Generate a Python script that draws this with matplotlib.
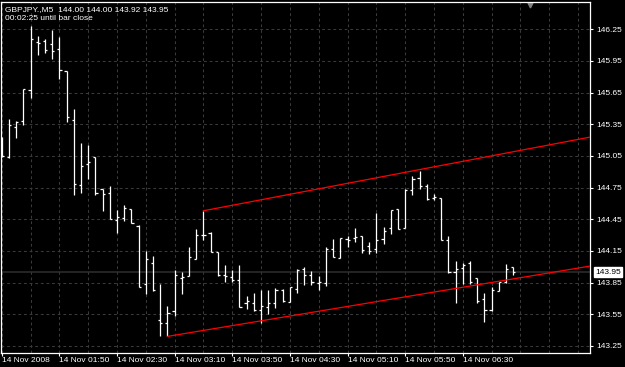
import matplotlib
matplotlib.use("Agg")
import matplotlib.pyplot as plt
import matplotlib.transforms as mtransforms
import numpy as np

# GBPJPY M5 bars, 14 Nov 2008 01:10 .. 07:05
opens = [145.20, 145.04, 145.32, 145.38, 145.67, 146.13, 146.14, 146.11, 146.06, 145.85,
         145.39, 144.77, 144.97, 145.04, 144.74, 144.70, 144.44, 144.46, 144.55, 144.39,
         143.84, 144.04, 143.50, 143.47, 143.58, 143.89, 143.91, 144.07, 144.30, 144.32,
         144.14, 143.92, 143.90, 143.87, 143.66, 143.66, 143.59, 143.62, 143.66, 143.78,
         143.67, 143.79, 143.98, 143.92, 143.85, 143.85, 144.17, 144.08, 144.26, 144.27,
         144.29, 144.20, 144.17, 144.26, 144.37, 144.55, 144.37, 144.73, 144.84, 144.76,
         144.65, 144.65, 144.25, 143.95, 143.99, 144.04, 143.89, 143.69, 143.59, 143.77,
         143.86, 144.00]
highs = [145.23, 145.40, 145.38, 145.68, 146.28, 146.19, 146.16, 146.24, 146.18, 145.85,
         145.49, 145.17, 145.15, 145.04, 144.74, 144.76, 144.54, 144.58, 144.55, 144.40,
         144.15, 144.10, 143.84, 143.63, 143.97, 143.95, 144.19, 144.36, 144.53, 144.33,
         144.14, 144.02, 143.97, 144.02, 143.72, 143.75, 143.78, 143.78, 143.80, 143.79,
         143.81, 143.98, 144.00, 143.96, 143.91, 144.19, 144.26, 144.27, 144.29, 144.37,
         144.29, 144.23, 144.51, 144.38, 144.54, 144.55, 144.74, 144.86, 144.91, 144.78,
         144.69, 144.65, 144.29, 144.05, 144.04, 144.05, 143.89, 143.75, 143.81, 143.86,
         144.03, 144.00]
lows = [145.04, 145.03, 145.22, 145.34, 145.60, 146.01, 146.02, 145.97, 145.78, 145.37,
        144.68, 144.70, 144.83, 144.68, 144.53, 144.45, 144.32, 144.43, 144.41, 143.81,
        143.74, 143.77, 143.34, 143.34, 143.53, 143.74, 143.91, 144.07, 144.25, 144.14,
        143.91, 143.86, 143.86, 143.62, 143.60, 143.58, 143.47, 143.55, 143.61, 143.67,
        143.67, 143.75, 143.83, 143.83, 143.78, 143.82, 144.09, 144.08, 144.19, 144.23,
        144.13, 144.12, 144.13, 144.22, 144.31, 144.36, 144.37, 144.68, 144.74, 144.63,
        144.63, 144.25, 143.94, 143.66, 143.84, 143.84, 143.66, 143.48, 143.58, 143.77,
        143.85, 143.92]
closes = [145.05, 145.34, 145.37, 145.68, 146.16, 146.12, 146.05, 146.04, 145.86, 145.42,
          144.78, 144.95, 144.99, 144.70, 144.69, 144.45, 144.47, 144.56, 144.41, 143.81,
          144.07, 143.78, 143.47, 143.56, 143.92, 143.90, 144.09, 144.30, 144.30, 144.14,
          143.92, 143.91, 143.87, 143.62, 143.68, 143.59, 143.63, 143.66, 143.78, 143.68,
          143.81, 143.97, 143.92, 143.86, 143.86, 144.17, 144.09, 144.27, 144.25, 144.28,
          144.16, 144.15, 144.25, 144.34, 144.54, 144.36, 144.73, 144.83, 144.76, 144.64,
          144.66, 144.25, 143.95, 143.98, 144.02, 143.86, 143.68, 143.59, 143.78, 143.86,
          143.98, 143.95]

time_labels = ["14 Nov 2008", "14 Nov 01:50", "14 Nov 02:30", "14 Nov 03:10", "14 Nov 03:50",
               "14 Nov 04:30", "14 Nov 05:10", "14 Nov 05:50", "14 Nov 06:30"]
price_ticks = [143.25, 143.55, 143.85, 144.15, 144.45, 144.75, 145.05, 145.35, 145.65, 145.95, 146.25]

symbol = "GBPJPY.,M5"
bid = 143.95
timer = "00:02:25 until bar close"

# trend lines: (bar index, price) anchors
upper_line = [(28, 144.53), (58, 144.92)]
lower_line = [(23, 143.34), (60, 143.76)]

plt.rcParams['font.family'] = ['Liberation Sans', 'DejaVu Sans']
plt.rcParams['font.size'] = 6

fig = plt.figure(figsize=(6.25, 3.67), dpi=100, facecolor='black')
ax = fig.add_axes([0.0024, 0.0373, 0.9416, 0.958])
ax.set_facecolor('black')

x_left, x_right = -0.03, 81.66
ax.set_xlim(x_left, x_right)
ax.set_ylim(143.18, 146.51)

# grid
ax.set_axisbelow(True)
ax.set_xticks(np.arange(0, 72, 8))
ax.set_xticks(np.arange(0, 84, 4), minor=True)
ax.set_yticks(price_ticks)
ax.grid(which='both', axis='x', color='#3a3a3a', lw=0.75, linestyle=(0, (2.7, 2.7)))
ax.grid(which='major', axis='y', color='#3a3a3a', lw=0.75, linestyle=(0, (2.7, 2.7)))

# bid line
ax.axhline(bid, color='#2e2e2e', lw=1.1, zorder=1)

# OHLC bars
x = np.arange(len(opens))
tick = 0.3
ax.vlines(x, lows, highs, color='white', lw=0.9, zorder=3)
ax.hlines(opens, x - tick, x, color='white', lw=0.9, zorder=3)
ax.hlines(closes, x, x + tick, color='white', lw=0.9, zorder=3)


def ray(pts, x_end):
    (x1, y1), (x2, y2) = pts
    m = (y2 - y1) / (x2 - x1)
    return [x1, x_end], [y1, y1 + m * (x_end - x1)]


for pts in (upper_line, lower_line):
    xs, ys = ray(pts, x_right)
    ax.plot(xs, ys, color='#ff0000', lw=0.9, zorder=4)

# axes styling
for side in ['left', 'right', 'top', 'bottom']:
    ax.spines[side].set_color('white')
    ax.spines[side].set_linewidth(0.9)
ax.yaxis.tick_right()
ax.tick_params(axis='y', which='major', colors='white', length=2.2, width=0.8, pad=2.5, labelsize=6)
ax.tick_params(axis='x', which='major', colors='white', length=2.2, width=0.8, pad=0.8, labelsize=6)
ax.tick_params(axis='x', which='minor', length=0)
ax.set_yticklabels([f"{p:.2f}" for p in price_ticks])
ax.set_xticklabels(time_labels, ha='left')

# bid price label on the scale
trans = mtransforms.blended_transform_factory(ax.transAxes, ax.transData)
ax.text(1.0085, bid, f"{bid:.2f}", transform=trans, color='black', fontsize=6,
        va='center', ha='left', zorder=5,
        bbox=dict(boxstyle='square,pad=0.18', fc='white', ec='white'))

# chart shift marker
ax.plot(0.898, 0.99, marker='v', color='#808080', ms=3.5, transform=ax.transAxes, clip_on=False)

# header text
header = f"{symbol}  {opens[-1]:.2f} {highs[-1]:.2f} {lows[-1]:.2f} {closes[-1]:.2f}"
fig.text(5 / 625, 1 - 9.3 / 367, header, color='white', fontsize=6, va='center', ha='left')
fig.text(5 / 625, 1 - 18.5 / 367, timer, color='white', fontsize=6, va='center', ha='left')

fig.savefig("out.png", dpi=100, facecolor='black')
